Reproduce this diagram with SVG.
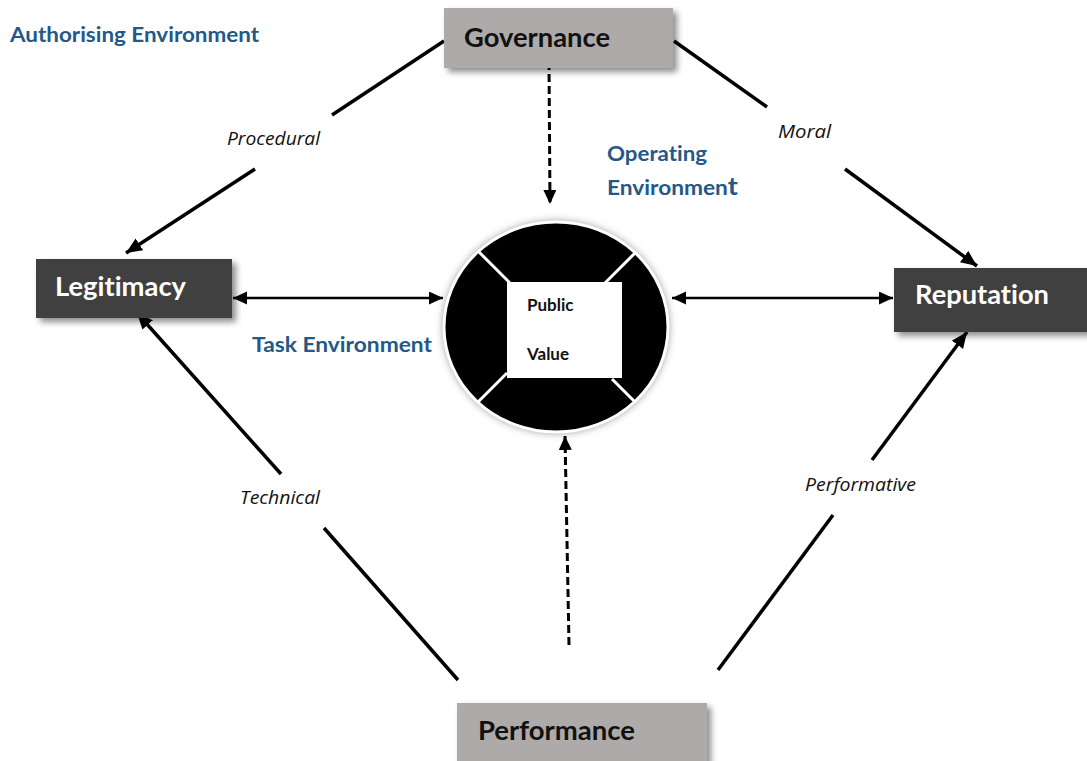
<svg xmlns="http://www.w3.org/2000/svg" width="1087" height="761" viewBox="0 0 1087 761">
  <style>
    text { font-variant-ligatures: none; }
    .box-light { fill: #aeaaaa; }
    .box-dark { fill: #404040; }
    .node-label { font-family: Lato, "Open Sans", sans-serif; font-weight: bold; font-size: 27px; }
    .light-text { fill: #111111; }
    .dark-text { fill: #ffffff; }
    .env { font-family: Lato, "Open Sans", sans-serif; font-weight: bold; font-size: 20px; fill: #245888; }
    .rel { font-family: "Open Sans", Lato, sans-serif; font-style: italic; font-size: 18px; fill: #111111; }
    .pv { font-family: Lato, "Open Sans", sans-serif; font-weight: bold; font-size: 17px; fill: #111111; }
    .solid { stroke: #000; stroke-width: 3.5; fill: none; }
    .thin { stroke: #000; stroke-width: 2.5; fill: none; }
    .dashed { stroke: #000; stroke-width: 3; fill: none; stroke-dasharray: 8 4; }
    .spoke { stroke: #fff; stroke-width: 3; }
  </style>
  <defs>
    <filter id="shadow" x="-10%" y="-20%" width="130%" height="160%">
      <feDropShadow dx="4" dy="4" stdDeviation="3" flood-color="#000" flood-opacity="0.45"/>
    </filter>
    <filter id="glow" x="-20%" y="-20%" width="140%" height="140%">
      <feDropShadow dx="0" dy="0" stdDeviation="4" flood-color="#000" flood-opacity="0.5"/>
    </filter>
    <marker id="arrow" markerUnits="userSpaceOnUse" markerWidth="18" markerHeight="16" refX="16" refY="7" orient="auto-start-reverse" viewBox="0 0 18 16">
      <path d="M0,0 L16,7 L0,14 z" fill="#000"/>
    </marker>
    <marker id="arrowSmall" markerUnits="userSpaceOnUse" markerWidth="16" markerHeight="14" refX="14" refY="6.5" orient="auto-start-reverse" viewBox="0 0 16 14">
      <path d="M0,0 L14,6.5 L0,13 z" fill="#000"/>
    </marker>
    <clipPath id="circleClip">
      <ellipse cx="556" cy="327" rx="112" ry="105"/>
    </clipPath>
  </defs>

  <rect width="1087" height="761" fill="#ffffff"/>

  <text class="env" x="10" y="42" textLength="249" lengthAdjust="spacingAndGlyphs">Authorising Environment</text>
  <text class="env" x="607" y="161" textLength="100" lengthAdjust="spacingAndGlyphs">Operating</text>
  <text class="env" x="607" y="195" textLength="131" lengthAdjust="spacingAndGlyphs">Environmen<tspan font-size="24">t</tspan></text>
  <text class="env" x="252" y="352" textLength="180" lengthAdjust="spacingAndGlyphs">Task Environment</text>

  <g id="connectors">
    <!-- Governance to Legitimacy (Procedural) -->
    <line class="solid" x1="444" y1="41" x2="332" y2="115"/>
    <line class="solid" x1="255" y1="169" x2="126" y2="253" marker-end="url(#arrow)"/>
    <text class="rel" x="227" y="145" textLength="93" lengthAdjust="spacingAndGlyphs">Procedural</text>
    <!-- Governance to Reputation (Moral) -->
    <line class="solid" x1="674" y1="41" x2="767" y2="107"/>
    <line class="solid" x1="845" y1="169" x2="977" y2="266" marker-end="url(#arrow)"/>
    <text class="rel" x="778" y="138" textLength="53" lengthAdjust="spacingAndGlyphs">Moral</text>
    <!-- Performance to Legitimacy (Technical) -->
    <line class="solid" x1="458" y1="680" x2="324" y2="528"/>
    <line class="solid" x1="281" y1="474" x2="137" y2="313" marker-end="url(#arrow)"/>
    <text class="rel" x="240" y="504" textLength="80" lengthAdjust="spacingAndGlyphs">Technical</text>
    <!-- Performance to Reputation (Performative) -->
    <line class="solid" x1="718" y1="670" x2="833" y2="515"/>
    <line class="solid" x1="872" y1="460" x2="967" y2="332" marker-end="url(#arrow)"/>
    <text class="rel" x="805" y="491" textLength="111" lengthAdjust="spacingAndGlyphs">Performative</text>
    <!-- Legitimacy <-> Public Value -->
    <line class="thin" x1="233" y1="298" x2="443" y2="298" marker-start="url(#arrowSmall)" marker-end="url(#arrowSmall)"/>
    <!-- Public Value <-> Reputation -->
    <line class="thin" x1="672" y1="298" x2="893" y2="298" marker-start="url(#arrowSmall)" marker-end="url(#arrowSmall)"/>
    <!-- Governance to Public Value (dashed) -->
    <line class="dashed" x1="549" y1="62" x2="550" y2="204" marker-end="url(#arrowSmall)"/>
    <!-- Performance to Public Value (dashed) -->
    <line class="dashed" x1="569" y1="645" x2="565" y2="436" marker-end="url(#arrowSmall)"/>
  </g>

  <g id="public-value">
    <ellipse cx="556" cy="327" rx="112" ry="105" fill="#000" filter="url(#glow)"/>
    <g clip-path="url(#circleClip)">
      <line class="spoke" x1="512" y1="285" x2="440" y2="213"/>
      <line class="spoke" x1="605" y1="283" x2="675" y2="213"/>
      <line class="spoke" x1="507" y1="373" x2="440" y2="440"/>
      <line class="spoke" x1="612" y1="379" x2="675" y2="442"/>
    </g>
    <ellipse cx="556" cy="327" rx="112" ry="105" fill="none" stroke="#fff" stroke-width="3"/>
    <rect x="507" y="282" width="115" height="96" fill="#fff"/>
    <text class="pv" x="527" y="311">Public</text>
    <text class="pv" x="527" y="360">Value</text>
  </g>

  <g id="governance">
    <rect class="box-light" x="444" y="8" width="229" height="60" filter="url(#shadow)"/>
    <text class="node-label light-text" x="464" y="47" textLength="146" lengthAdjust="spacingAndGlyphs">Governance</text>
  </g>

  <g id="legitimacy">
    <rect class="box-dark" x="36" y="259" width="196" height="59" filter="url(#shadow)"/>
    <text class="node-label dark-text" x="55" y="296" textLength="131" lengthAdjust="spacingAndGlyphs">Legitimacy</text>
  </g>

  <g id="reputation">
    <rect class="box-dark" x="894" y="268" width="200" height="64" filter="url(#shadow)"/>
    <text class="node-label dark-text" x="915" y="304" textLength="134" lengthAdjust="spacingAndGlyphs">Reputation</text>
  </g>

  <g id="performance">
    <rect class="box-light" x="457" y="703" width="250" height="70" filter="url(#shadow)"/>
    <text class="node-label light-text" x="478" y="740" textLength="157" lengthAdjust="spacingAndGlyphs">Performance</text>
  </g>
</svg>
